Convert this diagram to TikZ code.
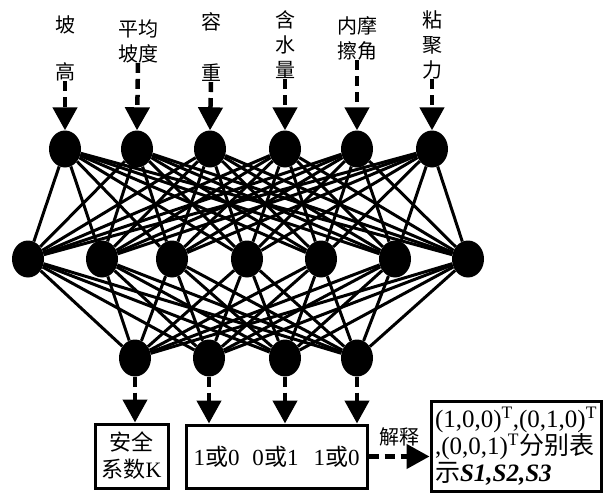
\documentclass[tikz,border=0pt]{standalone}
\usepackage{fontspec}
\setmainfont{Liberation Serif}
\newfontfamily\cjk{Noto Sans CJK SC}
\usetikzlibrary{arrows.meta,shapes.geometric,calc}

\begin{document}
\begin{tikzpicture}[x=1pt,y=-1pt,
  neuron/.style={ellipse,fill=black,minimum width=32pt,minimum height=37pt,inner sep=0pt},
  link/.style={line width=3pt},
  feed/.style={line width=4.5pt,dash pattern=on 10pt off 6pt,-{Triangle[width=24pt,length=23pt]}},
  lab/.style={font=\cjk\fontsize{20}{25}\selectfont,align=center,inner sep=0pt},
  outbox/.style={draw,line width=3pt,inner sep=0pt}]
\useasboundingbox (0,0) rectangle (604,492);

% input layer
\foreach \x [count=\i] in {65,137,210,285,357,432}
  \node[neuron] (a\i) at (\x,149) {};
% hidden layer
\foreach \x [count=\i] in {28,102,172,247,321,395,468}
  \node[neuron] (b\i) at (\x,259) {};
% output layer
\foreach \x [count=\i] in {135,209,285,357}
  \node[neuron] (c\i) at (\x,358) {};

% full connections
\foreach \i in {1,...,6}
  \foreach \j in {1,...,7}
    \draw[link] (a\i) -- (b\j);
\foreach \j in {1,...,7}
  \foreach \k in {1,...,4}
    \draw[link] (b\j) -- (c\k);

% input labels
\node[lab] (t1a) at (65,25) {坡};
\node[lab] (t1b) at (65,72) {高};
\node[lab] (t2) at (138,41) {平均\\坡度};
\node[lab] (t3a) at (211,22) {容};
\node[lab] (t3b) at (211,73) {重};
\node[lab] (t4) at (285,45) {含\\水\\量};
\node[lab] (t5) at (357,38) {内摩\\擦角};
\node[lab] (t6) at (432,45) {粘\\聚\\力};

\draw[feed] (t1b.south) -- (a1.north);
\draw[feed] (t2.south) -- (a2.north);
\draw[feed] (t3b.south) -- (a3.north);
\draw[feed] (t4.south) -- (a4.north);
\draw[feed] (t5.south) -- (a5.north);
\draw[feed] (t6.south) -- (a6.north);

% output boxes
\node[outbox,minimum width=73pt,minimum height=64pt,align=center,
      font=\fontsize{22}{27}\selectfont] (k) at (131.5,456)
  {{\cjk 安全}\\{\cjk 系数}K};
\node[outbox,minimum width=181pt,minimum height=63pt] (s) at (276.5,456.5)
  {\fontsize{23}{25}\selectfont 1{\cjk 或}0\hspace{13pt}0{\cjk 或}1\hspace{15pt}1{\cjk 或}0};
\node[outbox,minimum width=170pt,minimum height=90pt,align=left,
      font=\fontsize{25}{27}\selectfont] (r) at (516,446)
  {(1,0,0)$^{\mathrm{T}}$,(0,1,0)$^{\mathrm{T}}$\\
   ,(0,0,1)$^{\mathrm{T}}${\cjk 分别表}\\
   {\cjk 示}\textbf{\textit{S1,S2,S3}}};

\draw[feed] (c1.south) -- (c1 |- k.north);
\draw[feed] (c2.south) -- (c2 |- s.north);
\draw[feed] (c3.south) -- (c3 |- s.north);
\draw[feed] (c4.south) -- (c4 |- s.north);

\draw[feed] (s.east) -- (s.east -| r.west)
  node[midway,above=8pt,lab] (jx) {解释};
\end{tikzpicture}
\end{document}
